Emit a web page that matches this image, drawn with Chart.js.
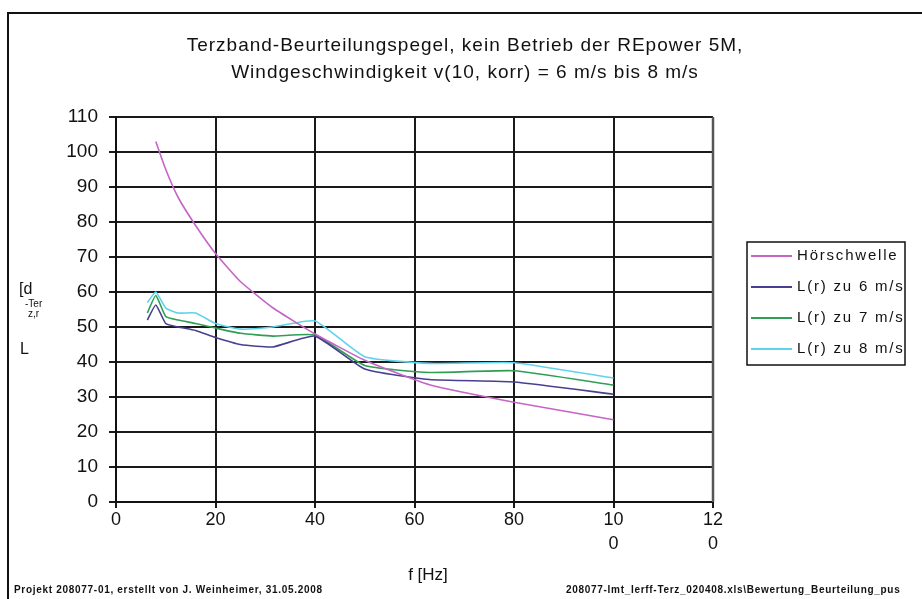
<!DOCTYPE html>
<html>
<head>
<meta charset="utf-8">
<script src="https://cdn.jsdelivr.net/npm/chart.js@4"></script>
<style>
    html, body { margin: 0; padding: 0; background: #fff; overflow: hidden; }
    #wrap { position: relative; width: 922px; height: 599px; }
    #frame { position: absolute; left: 7px; top: 12px; width: 930px; height: 600px; border: 2px solid #111; box-sizing: border-box; }
    canvas { position: absolute; left: 0; top: 0; }
</style>
</head>
<body>
<div id="wrap">
    <div id="frame"></div>
    <canvas id="terzChart" width="922" height="599"></canvas>
</div>
<script>

/* ---------------- DATA ---------------- */

const freqThreshold = [8, 10, 12.5, 16, 20, 25, 31.5, 40, 50, 63, 80, 100];
const hoerschwelle = [103, 95, 87, 79, 71, 63, 55.5, 48, 40.5, 33.5, 28.5, 23.5];

const freqBands = [6.3, 8, 10, 12.5, 16, 20, 25, 31.5, 40, 50, 63, 80, 100];
const lr6 = [52, 56.3, 51, 50, 49, 47, 45, 44.3, 47.4, 38, 35, 34.3, 30.8];
const lr7 = [54, 59, 53, 52, 51, 49.7, 48.2, 47.4, 47.7, 39, 37, 37.5, 33.4];
const lr8 = [57, 60, 55.4, 54, 54, 51, 49.4, 50, 51.7, 41.5, 39.6, 39.8, 35.4];

const seriesLabels = ["Hörschwelle", "L(r) zu 6 m/s", "L(r) zu 7 m/s", "L(r) zu 8 m/s"];
const seriesColors = ["#c665c6", "#47408e", "#2e9e55", "#5fd3ea"];

const xTicks = [0, 20, 40, 60, 80, 100, 120];
const yTicks = [0, 10, 20, 30, 40, 50, 60, 70, 80, 90, 100, 110];

const titleLines = [
    "Terzband-Beurteilungspegel, kein Betrieb der REpower 5M,",
    "Windgeschwindigkeit v(10, korr) = 6 m/s bis 8 m/s"
];

/* ---------------- HELPERS ---------------- */

function toPoints(xs, ys) {
    return xs.map((x, i) => ({ x: x, y: ys[i] }));
}

const FONT = "'Liberation Sans', Arial, sans-serif";

/* ---------------- EXTRA TEXT + LEGEND ---------------- */

const decorations = {
    id: "decorations",
    afterDraw(chart) {
        const ctx = chart.ctx;
        const area = chart.chartArea;
        const spacing = v => { if ("letterSpacing" in ctx) ctx.letterSpacing = v; };

        ctx.save();
        ctx.fillStyle = "#111";
        ctx.textBaseline = "middle";

        // title
        ctx.textAlign = "center";
        ctx.font = "19px " + FONT;
        spacing("1px");
        ctx.fillText(titleLines[0], 465, 46);
        ctx.fillText(titleLines[1], 465, 73);
        spacing("0px");

        // x axis title
        ctx.font = "17px " + FONT;
        ctx.fillText("f [Hz]", 428, 575);

        // y axis title (broken vertical label)
        ctx.textAlign = "left";
        ctx.font = "16px " + FONT;
        ctx.fillText("[d", 19, 290);
        ctx.font = "10px " + FONT;
        ctx.fillText("-Ter", 25, 304);
        ctx.fillText("z,r", 28, 314);
        ctx.font = "16px " + FONT;
        ctx.fillText("L", 20, 350);

        // footer
        ctx.font = "bold 10px " + FONT;
        spacing("0.7px");
        ctx.fillText("Projekt 208077-01, erstellt von J. Weinheimer, 31.05.2008", 14, 590);
        ctx.fillText("208077-Imt_Ierff-Terz_020408.xls\\Bewertung_Beurteilung_pus", 566, 590);
        spacing("0px");

        // right border of plot area
        ctx.strokeStyle = "#555";
        ctx.lineWidth = 2.5;
        ctx.beginPath();
        ctx.moveTo(area.right, area.top);
        ctx.lineTo(area.right, area.bottom);
        ctx.stroke();

        // legend
        ctx.strokeStyle = "#111";
        ctx.lineWidth = 1.5;
        ctx.strokeRect(747, 242, 158, 123);

        ctx.font = "15px " + FONT;
        spacing("1.8px");
        chart.data.datasets.forEach((ds, i) => {
            const y = 256 + i * 31;
            ctx.strokeStyle = ds.borderColor;
            ctx.lineWidth = 2;
            ctx.beginPath();
            ctx.moveTo(751, y);
            ctx.lineTo(792, y);
            ctx.stroke();
            ctx.fillStyle = "#111";
            ctx.fillText(ds.label, 797, y);
        });

        ctx.restore();
    }
};

/* ---------------- CHART ---------------- */

const ctx = document.getElementById("terzChart");

new Chart(ctx, {
    type: "line",
    data: {
        datasets: [
            { label: seriesLabels[0], data: toPoints(freqThreshold, hoerschwelle), borderColor: seriesColors[0] },
            { label: seriesLabels[1], data: toPoints(freqBands, lr6), borderColor: seriesColors[1] },
            { label: seriesLabels[2], data: toPoints(freqBands, lr7), borderColor: seriesColors[2] },
            { label: seriesLabels[3], data: toPoints(freqBands, lr8), borderColor: seriesColors[3] }
        ]
    },
    options: {
        responsive: false,
        animation: false,
        layout: { padding: { top: 117, right: 209, left: 0, bottom: 0 } },
        elements: {
            point: { radius: 0 },
            line: { borderWidth: 1.6, tension: 0.15, fill: false }
        },
        plugins: {
            legend: { display: false },
            tooltip: { enabled: false }
        },
        scales: {
            x: {
                type: "linear",
                min: 0,
                max: 120,
                afterFit: s => { s.height = 97; },
                afterBuildTicks: s => { s.ticks = xTicks.map(v => ({ value: v })); },
                ticks: {
                    color: "#111",
                    padding: 0,
                    maxRotation: 0,
                    font: { family: FONT, size: 18, lineHeight: 1.35 },
                    callback: v => v >= 100 ? [String(v).slice(0, 2), String(v).slice(2)] : String(v)
                },
                grid: { color: "#1a1a1a", lineWidth: 2, tickLength: 6 },
                border: { color: "#111", width: 2 }
            },
            y: {
                min: 0,
                max: 110,
                afterFit: s => { s.width = 116; },
                afterBuildTicks: s => { s.ticks = yTicks.map(v => ({ value: v })); },
                ticks: {
                    color: "#111",
                    padding: 11,
                    font: { family: FONT, size: 19 }
                },
                grid: { color: "#1a1a1a", lineWidth: 2, tickLength: 7 },
                border: { color: "#111", width: 2 }
            }
        }
    },
    plugins: [decorations]
});

</script>
</body>
</html>
